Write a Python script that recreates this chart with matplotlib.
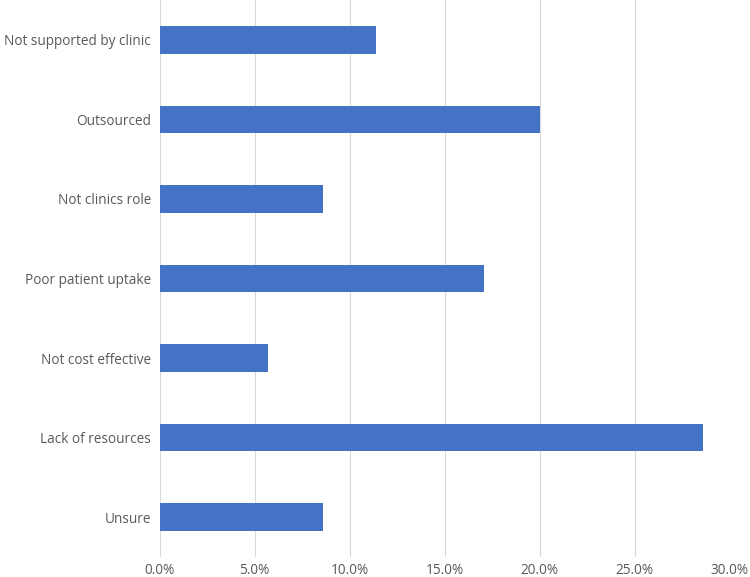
import matplotlib
matplotlib.use("Agg")
import matplotlib.pyplot as plt
from matplotlib.ticker import FuncFormatter

# Reasons, top to bottom as shown
categories = [
    "Not supported by clinic",
    "Outsourced",
    "Not clinics role",
    "Poor patient uptake",
    "Not cost effective",
    "Lack of resources",
    "Unsure",
]
percent = [11.4, 20.0, 8.6, 17.1, 5.7, 28.6, 8.6]
x_ticks = [0, 5, 10, 15, 20, 25, 30]

plt.rcParams["font.family"] = ["Open Sans", "DejaVu Sans"]

fig = plt.figure(figsize=(7.5, 5.77), dpi=100)
ax = fig.add_axes([159.5 / 750, 20 / 577, 570 / 750, 557 / 577])

ypos = list(range(len(categories)))
ax.barh(ypos, percent, height=0.345, color="#4472C4", zorder=3)

ax.set_xlim(0, 30)
ax.set_ylim(6.5, -0.5)
ax.set_yticks(ypos)
ax.set_yticklabels(categories)
ax.set_xticks(x_ticks)
ax.xaxis.set_major_formatter(FuncFormatter(lambda v, p: f"{v:.1f}%"))

ax.grid(axis="x", color="#d9d9d9", linewidth=0.8, zorder=0)
for s in ax.spines.values():
    s.set_visible(False)
ax.tick_params(length=0, labelsize=9.8, colors="#595959", pad=6)
ax.tick_params(axis="x", pad=4)

fig.savefig("out.png", dpi=100)
